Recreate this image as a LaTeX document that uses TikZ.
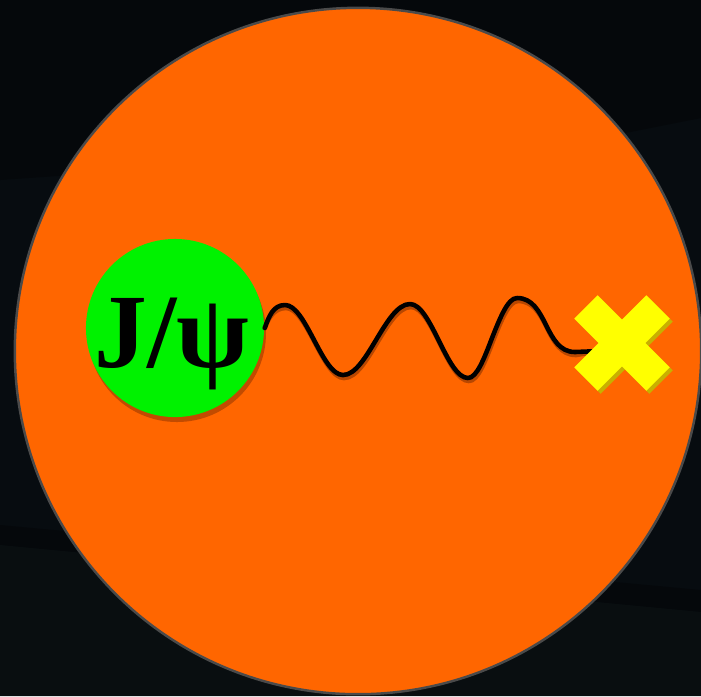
\documentclass[tikz,border=0pt]{standalone}
\usepackage{fontspec}
\setmainfont{Liberation Serif}
\usetikzlibrary{calc}
\definecolor{Night}{HTML}{070C10}
\definecolor{NightLow}{HTML}{090E10}
\definecolor{NightBand}{HTML}{05080B}
\definecolor{Plasma}{HTML}{FF6600}
\definecolor{Rim}{HTML}{4A4A4A}
\definecolor{Meson}{HTML}{00F200}
\definecolor{Dark}{HTML}{9A3A00}
\definecolor{Spark}{HTML}{FFFF00}
\definecolor{SparkDark}{HTML}{C8B000}

\begin{document}
\begin{tikzpicture}[x=0.01cm,y=-0.01cm,
    ball/.style={circle,fill=Meson,minimum size=1.78cm,inner sep=0pt},
    wave/.style={line width=1.3pt,line cap=round,line join=round},
    armfill/.style={fill=Spark},
    armshadow/.style={fill=SparkDark}
  ]
    \useasboundingbox (0,0) rectangle (701,696);
    % dark backdrop with faint bands
    \fill[Night] (0,0) rectangle (701,696);
    \fill[NightBand] (0,525) -- (701,590) -- (701,612) -- (0,545) -- cycle;
    \fill[NightLow] (0,545) -- (701,612) -- (701,696) -- (0,696) -- cycle;
    \fill[NightBand] (0,0) -- (701,0) -- (701,118) -- (600,138) -- (0,180) -- cycle;

    % medium
    \node[circle,fill=Plasma,draw=Rim,line width=0.7pt,minimum size=6.86cm,
      inner sep=0pt] (medium) at (358,351) {};

    % J/psi
    \fill[Dark,opacity=0.6] (177,333) circle [radius=89];
    \node[ball] (jpsi) at (175,328) {};
    \node[anchor=base,font=\fontsize{30}{36}\selectfont\bfseries] (jpsitext)
      at (172,367) {J/ψ};

    % gluon line
    \coordinate (hit) at (600,351);
    \draw[wave,Dark,opacity=0.7,shift={(1,3)}] (jpsi.east) to[out=70,in=180] (285,305)
      cos (314,340) sin (343,375) cos (376,340) sin (410,304)
      cos (439,341) sin (468,378) cos (492,338) sin (517,298)
      to[out=0,in=180] (575,352) -- (hit);
    \draw[wave,black] (jpsi.east) to[out=70,in=180] (285,305)
      cos (314,340) sin (343,375) cos (376,340) sin (410,304)
      cos (439,341) sin (468,378) cos (492,338) sin (517,298)
      to[out=0,in=180] (575,352) -- (hit);

    % cross
    \node[inner sep=0pt,minimum size=0pt] (cross) at (622,343) {};
    \begin{scope}[shift={($(cross)+(3,3)$)},rotate=45]
      \fill[armshadow] (-51,-16.5) rectangle (51,16.5);
      \fill[armshadow] (-16.5,-51) rectangle (16.5,51);
    \end{scope}
    \begin{scope}[shift={(cross)},rotate=45]
      \fill[armfill] (-51,-16.5) rectangle (51,16.5);
      \fill[armfill] (-16.5,-51) rectangle (16.5,51);
    \end{scope}
  \end{tikzpicture}
\end{document}
